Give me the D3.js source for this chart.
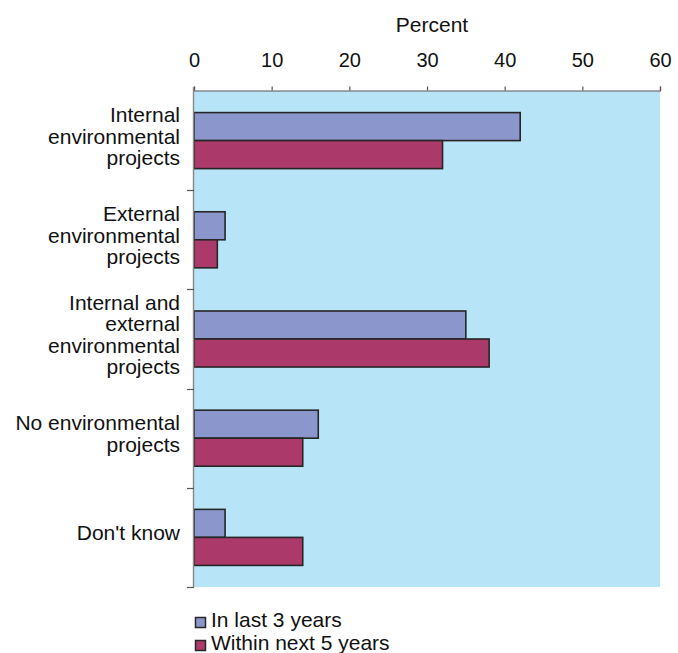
<!DOCTYPE html>
<html>
<head>
<meta charset="utf-8">
<script src="https://cdn.jsdelivr.net/npm/d3@7"></script>
<style>
  html, body { margin: 0; padding: 0; background: #fff; }
  svg { display: block; font-family: "Liberation Sans", Arial, sans-serif; }
</style>
</head>
<body>
<svg id="chart" width="678" height="653"></svg>
<script>
// Environmental project activity, share of respondents (percent)
const categories = [
  "Internal environmental projects",
  "External environmental projects",
  "Internal and external environmental projects",
  "No environmental projects",
  "Don't know"
];
const categoryLines = [
  ["Internal", "environmental", "projects"],
  ["External", "environmental", "projects"],
  ["Internal and", "external", "environmental", "projects"],
  ["No environmental", "projects"],
  ["Don't know"]
];
const seriesNames = ["In last 3 years", "Within next 5 years"];
const lastThreeYears = [42, 4, 35, 16, 4];
const nextFiveYears = [32, 3, 38, 14, 14];
const xTicks = [0, 10, 20, 30, 40, 50, 60];
const axisTitle = "Percent";

const seriesColors = ["#8b97cc", "#ab3a6b"];
const seriesValues = [lastThreeYears, nextFiveYears];

const svg = d3.select("#chart");
const plot = { left: 194, right: 660, top: 91, bottom: 587 };

const x = d3.scaleLinear().domain([0, 60]).range([plot.left, plot.right]);
const y = d3.scaleBand().domain(categories).range([plot.top, plot.bottom]);
const ySub = d3.scaleBand().domain(seriesNames).range([0, y.bandwidth()])
  .paddingInner(0).paddingOuter(0.77);

// plot background
svg.append("rect")
  .attr("x", plot.left).attr("y", plot.top)
  .attr("width", plot.right - plot.left).attr("height", plot.bottom - plot.top)
  .attr("fill", "#b8e4f8");

// bars
const rows = categories.map((c, i) => ({ c, vals: seriesNames.map((s, j) => ({ s, v: seriesValues[j][i], j })) }));
const groups = svg.append("g").selectAll("g").data(rows).join("g")
  .attr("transform", d => `translate(0,${y(d.c)})`);
groups.selectAll("rect").data(d => d.vals).join("rect")
  .attr("x", x(0))
  .attr("y", d => ySub(d.s))
  .attr("width", d => x(d.v) - x(0))
  .attr("height", ySub.bandwidth())
  .attr("fill", d => seriesColors[d.j])
  .attr("stroke", "#262626")
  .attr("stroke-width", 1.6);

// top axis
const xAxis = svg.append("g")
  .attr("transform", `translate(0,${plot.top - 0.5})`)
  .call(d3.axisTop(x).tickValues(xTicks).tickSize(4).tickPadding(20).tickFormat(d3.format("d")));
xAxis.select(".domain").attr("stroke", "#555").attr("stroke-width", 1.2);
xAxis.selectAll(".tick line").attr("stroke", "#555").attr("stroke-width", 1.2);
xAxis.selectAll(".tick text")
  .attr("font-size", 20).attr("fill", "#111")
  .attr("font-family", "'Liberation Sans', Arial, sans-serif");

svg.append("text")
  .attr("x", (plot.left + plot.right) / 2 + 5)
  .attr("y", 31.5)
  .attr("text-anchor", "middle")
  .attr("font-size", 21)
  .attr("fill", "#111")
  .text(axisTitle);

// left axis line with ticks at category boundaries
const leftAxis = svg.append("g");
leftAxis.append("line")
  .attr("x1", plot.left - 0.5).attr("x2", plot.left - 0.5)
  .attr("y1", plot.top - 4).attr("y2", plot.bottom)
  .attr("stroke", "#888").attr("stroke-width", 1.4);
const boundaries = categories.map(c => y(c)).concat([y.range()[1]]).slice(1);
leftAxis.selectAll("line.tick").data(boundaries).join("line")
  .attr("class", "tick")
  .attr("x1", plot.left - 7).attr("x2", plot.left)
  .attr("y1", d => Math.round(d) + 0.5).attr("y2", d => Math.round(d) + 0.5)
  .attr("stroke", "#555").attr("stroke-width", 1.2);

// category labels
const lineH = 21.5;
const labels = svg.append("g");
categories.forEach((c, i) => {
  const lines = categoryLines[i];
  const cy = y(c) + y.bandwidth() / 2;
  const t = labels.append("text")
    .attr("text-anchor", "end")
    .attr("font-size", 21)
    .attr("fill", "#111");
  lines.forEach((ln, k) => {
    t.append("tspan")
      .attr("x", 180)
      .attr("y", cy + (k - (lines.length - 1) / 2) * lineH + 3)
      .text(ln);
  });
});

// legend
const legend = svg.append("g");
seriesNames.forEach((s, j) => {
  const ly = 617 + j * 23;
  legend.append("rect")
    .attr("x", 195.5).attr("y", ly + 0.5)
    .attr("width", 10).attr("height", 10)
    .attr("fill", seriesColors[j])
    .attr("stroke", "#262626").attr("stroke-width", 1.5);
  legend.append("text")
    .attr("x", 211).attr("y", ly + 10)
    .attr("font-size", 21).attr("fill", "#111")
    .text(s);
});
</script>
</body>
</html>
